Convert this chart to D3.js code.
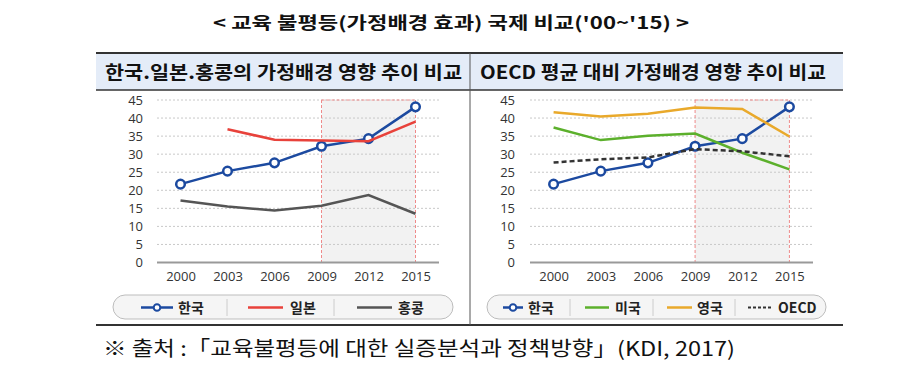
<!DOCTYPE html>
<html><head><meta charset="utf-8">
<script src="https://cdn.jsdelivr.net/npm/d3@7"></script>
<style>html,body{margin:0;padding:0;background:#fff;}svg{display:block;}</style>
</head><body>
<svg id="c" width="923" height="371"></svg>
<script>
const years = [2000, 2003, 2006, 2009, 2012, 2015];
const yTicks = [0, 5, 10, 15, 20, 25, 30, 35, 40, 45];
const korea = [21.7, 25.3, 27.6, 32.2, 34.3, 43.1];
const japan = [null, 36.9, 34.0, 33.8, 33.6, 39.0];
const hongkong = [17.2, 15.5, 14.4, 15.7, 18.7, 13.5];
const usa = [37.4, 33.9, 35.1, 35.7, 30.4, 25.8];
const uk = [41.6, 40.4, 41.2, 42.9, 42.5, 34.9];
const oecd = [27.7, 28.6, 29.1, 31.4, 30.8, 29.4];
const highlight = [2009, 2015];

const titleText = "< 교육 불평등(가정배경 효과) 국제 비교('00~'15) >";
const panelTitles = ["한국.일본.홍콩의 가정배경 영향 추이 비교", "OECD 평균 대비 가정배경 영향 추이 비교"];
const sourceText = "※ 출처 :「교육불평등에 대한 실증분석과 정책방향」(KDI, 2017)";

const svg = d3.select("#c");
const KR = "'Noto Sans CJK KR', 'Noto Sans', sans-serif";

// Title
svg.append("text").attr("x", 451).attr("y", 29).attr("text-anchor", "middle")
  .attr("font-family", KR).attr("font-weight", 700).attr("font-size", 17)
  .attr("fill", "#111").attr("textLength", 476).attr("lengthAdjust", "spacingAndGlyphs").text(titleText);

// table frame
svg.append("rect").attr("x", 96).attr("y", 53).attr("width", 747).attr("height", 37).attr("fill", "#e4ecf8");
svg.append("line").attr("x1", 96).attr("x2", 843).attr("y1", 53).attr("y2", 53).attr("stroke", "#333").attr("stroke-width", 2);
svg.append("line").attr("x1", 96).attr("x2", 843).attr("y1", 90).attr("y2", 90).attr("stroke", "#333").attr("stroke-width", 1.5);
svg.append("line").attr("x1", 96).attr("x2", 843).attr("y1", 325).attr("y2", 325).attr("stroke", "#333").attr("stroke-width", 2);
svg.append("line").attr("x1", 470).attr("x2", 470).attr("y1", 53).attr("y2", 325).attr("stroke", "#555").attr("stroke-width", 1);

const headerPos = [{x: 105, w: 357}, {x: 480, w: 346}];
panelTitles.forEach((t, i) => {
  svg.append("text").attr("x", headerPos[i].x).attr("y", 79)
    .attr("font-family", KR).attr("font-weight", 700).attr("font-size", 18).attr("fill", "#111")
    .attr("textLength", headerPos[i].w).attr("lengthAdjust", "spacingAndGlyphs").text(t);
});

function panel(cfg) {
  const g = svg.append("g");
  const x = d3.scalePoint().domain(years).range([cfg.x0, cfg.x1]).padding(0.5);
  const y = d3.scaleLinear().domain([0, 45]).range([262.5, 100]);
  // shaded
  const sx0 = x(highlight[0]), sx1 = x(highlight[1]);
  g.append("rect").attr("x", sx0).attr("y", y(45)).attr("width", sx1 - sx0).attr("height", y(0) - y(45)).attr("fill", "#f2f2f2");
  // grid
  g.selectAll(".grid").data(yTicks.filter(d => d > 0)).join("line")
    .attr("x1", cfg.x0).attr("x2", cfg.x1).attr("y1", d => y(d)).attr("y2", d => y(d))
    .attr("stroke", "#c8c8c8").attr("stroke-width", 1).attr("stroke-dasharray", "2,2");
  // shaded borders
  const pink = "#ef8a8a";
  [[sx0, y(45), sx0, y(0)], [sx1, y(45), sx1, y(0)], [sx0, y(45), sx1, y(45)]].forEach(p => {
    g.append("line").attr("x1", p[0]).attr("y1", p[1]).attr("x2", p[2]).attr("y2", p[3])
      .attr("stroke", pink).attr("stroke-width", 1).attr("stroke-dasharray", "3,2");
  });
  // baseline
  g.append("line").attr("x1", cfg.x0).attr("x2", cfg.x1).attr("y1", y(0)).attr("y2", y(0)).attr("stroke", "#999").attr("stroke-width", 2);
  // y axis labels
  const ya = g.append("g").attr("transform", `translate(${cfg.yLab},0)`)
    .call(d3.axisLeft(y).tickValues(yTicks).tickSize(0).tickPadding(0));
  ya.select(".domain").remove();
  ya.selectAll("text").attr("font-family", "'Open Sans', 'Noto Sans', sans-serif").attr("font-size", 13).attr("fill", "#333");
  // x axis labels
  const xa = g.append("g").attr("transform", `translate(0,${y(0)})`)
    .call(d3.axisBottom(x).tickSize(0).tickPadding(9));
  xa.select(".domain").remove();
  xa.selectAll("text").attr("font-family", "'Open Sans', 'Noto Sans', sans-serif").attr("font-size", 13).attr("fill", "#333");
  // series
  cfg.series.forEach(s => {
    const line = d3.line().defined(d => d[1] != null).x(d => x(d[0])).y(d => y(d[1]));
    const data = years.map((yr, i) => [yr, s.values[i]]);
    g.append("path").datum(data).attr("d", line).attr("fill", "none")
      .attr("stroke", s.color).attr("stroke-width", 2.5)
      .attr("stroke-dasharray", s.dash || null);
    if (s.marker) {
      g.selectAll(null).data(data.filter(d => d[1] != null)).join("circle")
        .attr("cx", d => x(d[0])).attr("cy", d => y(d[1])).attr("r", 4.3)
        .attr("fill", "#fff").attr("stroke", s.color).attr("stroke-width", 2.5);
    }
  });
  // legend
  const L = cfg.legend;
  const ly = 307.5;
  g.append("rect").attr("x", L.x0).attr("y", 295).attr("width", L.x1 - L.x0).attr("height", 24)
    .attr("rx", 12).attr("fill", "#f5f5f5").attr("stroke", "#bdbdbd").attr("stroke-width", 1);
  cfg.series.forEach((s, i) => {
    const it = L.items[i];
    g.append("line").attr("x1", it.a).attr("x2", it.b).attr("y1", ly).attr("y2", ly)
      .attr("stroke", s.color).attr("stroke-width", s.dash ? 2 : 2.5).attr("stroke-dasharray", s.dash ? "3,2" : null);
    if (s.marker) g.append("circle").attr("cx", (it.a + it.b) / 2).attr("cy", ly).attr("r", 3.3)
      .attr("fill", "#fff").attr("stroke", s.color).attr("stroke-width", 2);
    g.append("text").attr("x", it.t).attr("y", ly + 5).attr("font-family", KR).attr("font-weight", 700)
      .attr("font-size", 14).attr("fill", "#222").text(s.name);
  });
  L.seps.forEach(sx => {
    g.append("line").attr("x1", sx).attr("x2", sx).attr("y1", 299).attr("y2", 316).attr("stroke", "#ccc").attr("stroke-width", 1);
  });
}

panel({
  x0: 157, x1: 439, yLab: 143,
  series: [
    {name: "한국", values: korea, color: "#1c4aa0", marker: true},
    {name: "일본", values: japan, color: "#e8423b"},
    {name: "홍콩", values: hongkong, color: "#555555"}
  ],
  legend: {x0: 113, x1: 453, items: [{a: 141, b: 173, t: 178}, {a: 248, b: 283, t: 290}, {a: 357, b: 392, t: 398}], seps: [227, 334]}
});
panel({
  x0: 530, x1: 813, yLab: 515,
  series: [
    {name: "한국", values: korea, color: "#1c4aa0", marker: true},
    {name: "미국", values: usa, color: "#5cb02c"},
    {name: "영국", values: uk, color: "#e9a92b"},
    {name: "OECD", values: oecd, color: "#333333", dash: "5,3"}
  ],
  legend: {x0: 487, x1: 826, items: [{a: 503, b: 523, t: 528}, {a: 585, b: 609, t: 615}, {a: 667, b: 692, t: 697}, {a: 748, b: 772, t: 778}], seps: [570, 653, 735]}
});

// source
svg.append("text").attr("x", 103).attr("y", 356).attr("font-family", KR).attr("font-size", 20)
  .attr("fill", "#111").attr("textLength", 632).attr("lengthAdjust", "spacingAndGlyphs").text(sourceText);
</script>
</body></html>
